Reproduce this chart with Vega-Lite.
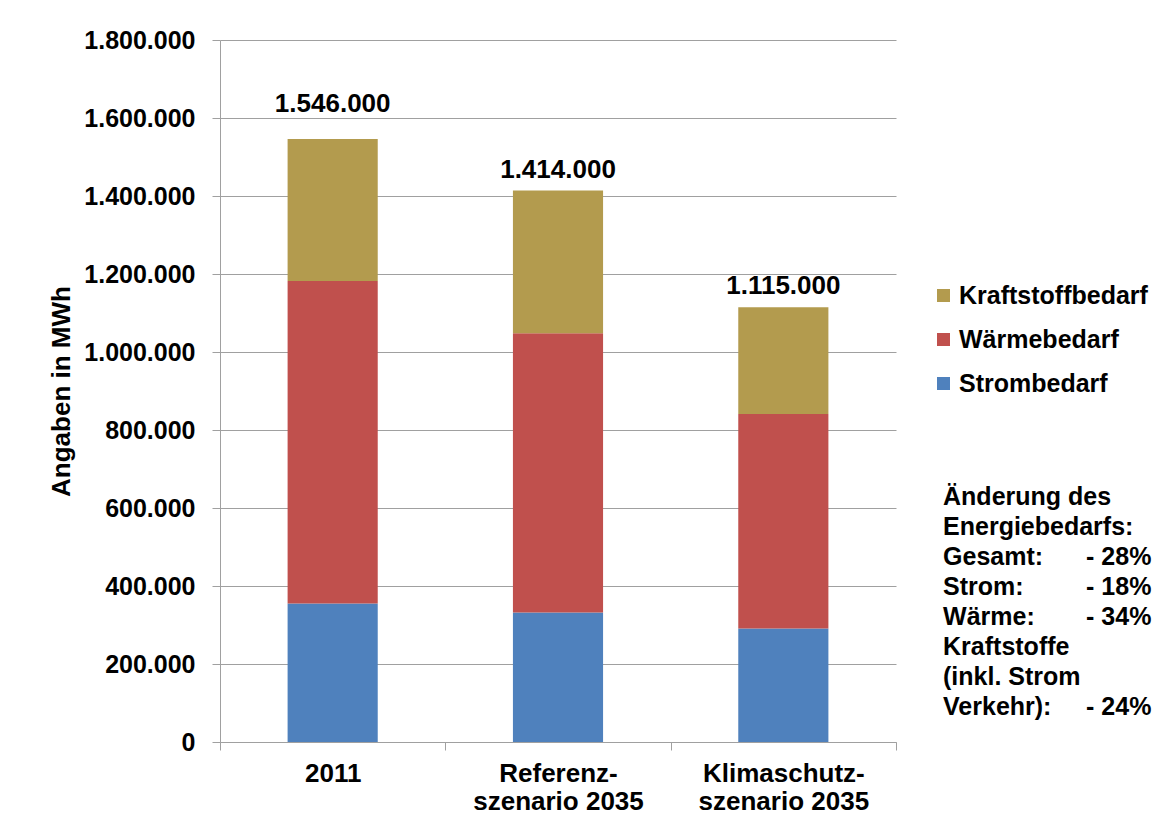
{
  "$schema": "https://vega.github.io/schema/vega-lite/v6.json",
  "background": "white",
  "autosize": {"type": "none"},
  "padding": {"left": 220, "top": 40, "right": 268, "bottom": 83},
  "width": 676,
  "height": 702,
  "config": {"font": "Liberation Sans", "view": {"stroke": null}},
  "layer": [
    {
      "data": {"values": [
        {"szenario": "2011", "bedarf": "Strombedarf", "rang": 1, "wert": 355000},
        {"szenario": "2011", "bedarf": "Wärmebedarf", "rang": 2, "wert": 827000},
        {"szenario": "2011", "bedarf": "Kraftstoffbedarf", "rang": 3, "wert": 364000},
        {"szenario": "Referenz-szenario 2035", "bedarf": "Strombedarf", "rang": 1, "wert": 332000},
        {"szenario": "Referenz-szenario 2035", "bedarf": "Wärmebedarf", "rang": 2, "wert": 716000},
        {"szenario": "Referenz-szenario 2035", "bedarf": "Kraftstoffbedarf", "rang": 3, "wert": 366000},
        {"szenario": "Klimaschutz-szenario 2035", "bedarf": "Strombedarf", "rang": 1, "wert": 291000},
        {"szenario": "Klimaschutz-szenario 2035", "bedarf": "Wärmebedarf", "rang": 2, "wert": 550000},
        {"szenario": "Klimaschutz-szenario 2035", "bedarf": "Kraftstoffbedarf", "rang": 3, "wert": 274000}
      ]},
      "layer": [
        {
          "mark": {"type": "bar", "width": {"band": 0.4}},
          "encoding": {
            "x": {
              "field": "szenario",
              "type": "nominal",
              "scale": {"domain": ["2011", "Referenz-szenario 2035", "Klimaschutz-szenario 2035"], "paddingInner": 0, "paddingOuter": 0},
              "axis": {
                "title": null,
                "labelAngle": 0,
                "tickBand": "extent",
                "tickSize": 8,
                "tickColor": "#a0a0a0",
                "domainColor": "#a0a0a0",
                "labelFontSize": 26,
                "labelFontWeight": "bold",
                "labelColor": "black",
                "labelLineHeight": 28,
                "labelBaseline": "top",
                "labelPadding": 10,
                "labelLimit": 400,
                "labelExpr": "split(replace(datum.label, '-', '-|'), '|')"
              }
            },
            "y": {
              "field": "wert",
              "type": "quantitative",
              "stack": "zero",
              "scale": {"domain": [0, 1800000], "nice": false},
              "axis": {
                "title": "Angaben in MWh",
                "titleFontSize": 26,
                "titleFontWeight": "bold",
                "titleColor": "black",
                "titlePadding": 9,
                "values": [0, 200000, 400000, 600000, 800000, 1000000, 1200000, 1400000, 1600000, 1800000],
                "labelExpr": "replace(replace(format(datum.value, ',.0f'), ',', '.'), ',', '.')",
                "labelFontSize": 25,
                "labelFontWeight": "bold",
                "labelColor": "black",
                "labelPadding": 17,
                "labelFlush": false,
                "labelOverlap": false,
                "tickSize": 8,
                "tickColor": "#a0a0a0",
                "domainColor": "#a0a0a0",
                "grid": true,
                "gridColor": "#a0a0a0"
              }
            },
            "color": {
              "field": "bedarf",
              "type": "nominal",
              "scale": {"domain": ["Kraftstoffbedarf", "Wärmebedarf", "Strombedarf"], "range": ["#B39B4E", "#C0504D", "#4F81BD"]},
              "legend": {
                "title": null,
                "orient": "none",
                "legendX": 711,
                "legendY": 243,
                "symbolType": "square",
                "symbolSize": 169,
                "symbolStrokeWidth": 0,
                "labelFontSize": 25,
                "labelFontWeight": "bold",
                "labelColor": "black",
                "labelOffset": 3,
                "labelLimit": 300,
                "rowPadding": 18
              }
            },
            "order": {"field": "rang", "type": "quantitative"}
          }
        },
        {
          "transform": [
            {"aggregate": [{"op": "sum", "field": "wert", "as": "gesamt"}], "groupby": ["szenario"]},
            {"filter": "datum.szenario == '2011'"},
            {"calculate": "replace(replace(format(datum.gesamt, ',.0f'), ',', '.'), ',', '.')", "as": "beschriftung"}
          ],
          "mark": {"type": "text", "baseline": "alphabetic", "dy": -27, "fontSize": 26, "fontWeight": "bold", "color": "black"},
          "encoding": {
            "x": {"field": "szenario", "type": "nominal"},
            "y": {"field": "gesamt", "type": "quantitative"},
            "text": {"field": "beschriftung"}
          }
        },
        {
          "transform": [
            {"aggregate": [{"op": "sum", "field": "wert", "as": "gesamt"}], "groupby": ["szenario"]},
            {"filter": "datum.szenario != '2011'"},
            {"calculate": "replace(replace(format(datum.gesamt, ',.0f'), ',', '.'), ',', '.')", "as": "beschriftung"}
          ],
          "mark": {"type": "text", "baseline": "alphabetic", "dy": -13, "fontSize": 26, "fontWeight": "bold", "color": "black"},
          "encoding": {
            "x": {"field": "szenario", "type": "nominal"},
            "y": {"field": "gesamt", "type": "quantitative"},
            "text": {"field": "beschriftung"}
          }
        }
      ]
    },
    {
      "data": {"values": [
        {"zeile": 0, "text": "Änderung des"},
        {"zeile": 1, "text": "Energiebedarfs:"},
        {"zeile": 2, "text": "Gesamt:", "aenderung": "- 28%"},
        {"zeile": 3, "text": "Strom:", "aenderung": "- 18%"},
        {"zeile": 4, "text": "Wärme:", "aenderung": "- 34%"},
        {"zeile": 5, "text": "Kraftstoffe"},
        {"zeile": 6, "text": "(inkl. Strom"},
        {"zeile": 7, "text": "Verkehr):", "aenderung": "- 24%"}
      ]},
      "layer": [
        {
          "mark": {"type": "text", "align": "left", "baseline": "alphabetic", "fontSize": 25, "fontWeight": "bold", "color": "black"},
          "encoding": {
            "x": {"datum": 0, "type": "quantitative", "scale": {"domain": [-5.056, -0.329], "nice": false, "zero": false}, "axis": null},
            "y": {"field": "zeile", "type": "quantitative", "scale": {"domain": [-15.5, 7.9], "reverse": true, "nice": false, "zero": false}, "axis": null},
            "text": {"field": "text"}
          }
        },
        {
          "transform": [{"filter": "isValid(datum.aenderung)"}],
          "mark": {"type": "text", "align": "left", "baseline": "alphabetic", "fontSize": 25, "fontWeight": "bold", "color": "black"},
          "encoding": {
            "x": {"datum": 1, "type": "quantitative"},
            "y": {"field": "zeile", "type": "quantitative"},
            "text": {"field": "aenderung"}
          }
        }
      ]
    }
  ],
  "resolve": {"scale": {"x": "independent", "y": "independent"}, "axis": {"x": "independent", "y": "independent"}}
}
